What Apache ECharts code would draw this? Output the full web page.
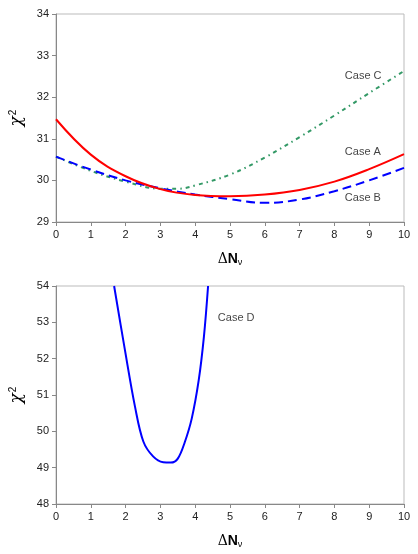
<!DOCTYPE html>
<html>
<head>
  <meta charset="UTF-8">
  <title>chi2 vs delta N</title>
  <script src="https://cdn.jsdelivr.net/npm/echarts@6/dist/echarts.min.js"></script>
  <style>
    html, body { margin: 0; padding: 0; background: #fff; }
    #chart { width: 418px; height: 554px; }
  </style>
</head>
<body>
  <div id="chart"></div>
  <script>
    // top panel
    var xTop = [0, 1, 2, 3, 4, 5, 6, 7, 8, 9, 10];
    var caseA = [31.47, 30.62, 30.1, 29.79, 29.65, 29.62, 29.66, 29.77, 29.97, 30.27, 30.63];
    var caseB = [30.57, 30.26, 30.0, 29.81, 29.66, 29.55, 29.46, 29.54, 29.74, 30.0, 30.3];
    var xC = [0, 1, 2, 3, 3.5, 4, 5, 6, 7, 8, 9, 10];
    var caseC = [30.57, 30.23, 29.97, 29.8, 29.8, 29.88, 30.14, 30.55, 31.04, 31.56, 32.1, 32.63];
    // bottom panel
    var xD = [1.67, 1.98, 2.27, 2.51, 2.79, 3.08, 3.3, 3.5, 3.7, 3.9, 4.1, 4.25, 4.37];
    var caseD = [54, 52.24, 50.68, 49.72, 49.31, 49.15, 49.14, 49.25, 49.7, 50.35, 51.4, 52.6, 54];
    // curve labels
    var labelsTop = ['Case C', 'Case A', 'Case B'];
    var labelsTopX = [8.3, 8.3, 8.3];
    var labelsTopY = [32.51, 30.69, 29.58];
    var labelsBottom = ['Case D'];
    var labelsBottomX = [4.65];
    var labelsBottomY = [53.12];

    function pairs(xs, ys) {
      return xs.map(function (x, i) { return [x, ys[i]]; });
    }

    var font = 'Liberation Sans, Arial, sans-serif';
    var xNameRich = {
      d: { fontFamily: 'DejaVu Serif', fontSize: 14, color: '#000' },
      n: { fontFamily: font, fontSize: 14, fontWeight: 'bold', color: '#000' },
      s: { fontFamily: font, fontSize: 9, color: '#000', verticalAlign: 'bottom', padding: [7, 0, 0, 0] }
    };
    var yNameRich = {
      c: { fontFamily: 'DejaVu Serif', fontStyle: 'italic', fontSize: 17, color: '#000' },
      p: { fontFamily: font, fontSize: 10, color: '#000', verticalAlign: 'top', padding: [0, 0, 8, 1] }
    };

    function xAxisFor(idx) {
      return {
        gridIndex: idx, type: 'value', min: 0, max: 10, interval: 1,
        name: '{d|Δ}{n|N}{s|ν}', nameLocation: 'middle', nameGap: 29,
        nameTextStyle: { rich: xNameRich },
        axisLine: { lineStyle: { color: '#888' } },
        axisTick: { show: true, length: 4, lineStyle: { color: '#888' } },
        axisLabel: { color: '#222', fontFamily: font, fontSize: 11, margin: 7 },
        splitLine: { show: false }
      };
    }
    function yAxisFor(idx, min, max) {
      return {
        gridIndex: idx, type: 'value', min: min, max: max, interval: 1,
        name: '{c|χ}{p|2}', nameLocation: 'middle', nameGap: 30, nameRotate: 90,
        nameTextStyle: { rich: yNameRich },
        axisLine: { show: true, lineStyle: { color: '#888' } },
        axisTick: { show: true, length: 4, lineStyle: { color: '#888' } },
        axisLabel: { color: '#222', fontFamily: font, fontSize: 11, margin: 7 },
        splitLine: { show: false }
      };
    }
    function labelSeries(idx, names, xs, ys) {
      return {
        type: 'scatter', xAxisIndex: idx, yAxisIndex: idx, symbolSize: 0, silent: true,
        data: names.map(function (n, i) { return { value: [xs[i], ys[i]], name: n }; }),
        label: { show: true, position: 'right', distance: 0, formatter: '{b}',
                 color: '#111', fontFamily: font, fontSize: 11 }
      };
    }

    var chart = echarts.init(document.getElementById('chart'));
    chart.setOption({
      animation: false,
      backgroundColor: '#fff',
      grid: [
        { left: 56, top: 14, width: 348, height: 208, show: true, borderColor: '#bbb', borderWidth: 1 },
        { left: 56, top: 286, width: 348, height: 218, show: true, borderColor: '#bbb', borderWidth: 1 }
      ],
      xAxis: [xAxisFor(0), xAxisFor(1)],
      yAxis: [yAxisFor(0, 29, 34), yAxisFor(1, 48, 54)],
      series: [
        {
          name: 'Case C', type: 'line', xAxisIndex: 0, yAxisIndex: 0,
          data: pairs(xC, caseC), smooth: 0.4, showSymbol: false,
          lineStyle: { color: '#339966', width: 2, type: [4, 4, 1.5, 4] }
        },
        {
          name: 'Case B', type: 'line', xAxisIndex: 0, yAxisIndex: 0,
          data: pairs(xTop, caseB), smooth: 0.4, showSymbol: false,
          lineStyle: { color: '#0000ff', width: 2, type: [9, 5] }
        },
        {
          name: 'Case A', type: 'line', xAxisIndex: 0, yAxisIndex: 0,
          data: pairs(xTop, caseA), smooth: 0.4, showSymbol: false,
          lineStyle: { color: '#ff0000', width: 2 }
        },
        {
          name: 'Case D', type: 'line', xAxisIndex: 1, yAxisIndex: 1,
          data: pairs(xD, caseD), smooth: 0.35, showSymbol: false,
          lineStyle: { color: '#0000ff', width: 2 }
        },
        labelSeries(0, labelsTop, labelsTopX, labelsTopY),
        labelSeries(1, labelsBottom, labelsBottomX, labelsBottomY)
      ]
    });
  </script>
</body>
</html>
